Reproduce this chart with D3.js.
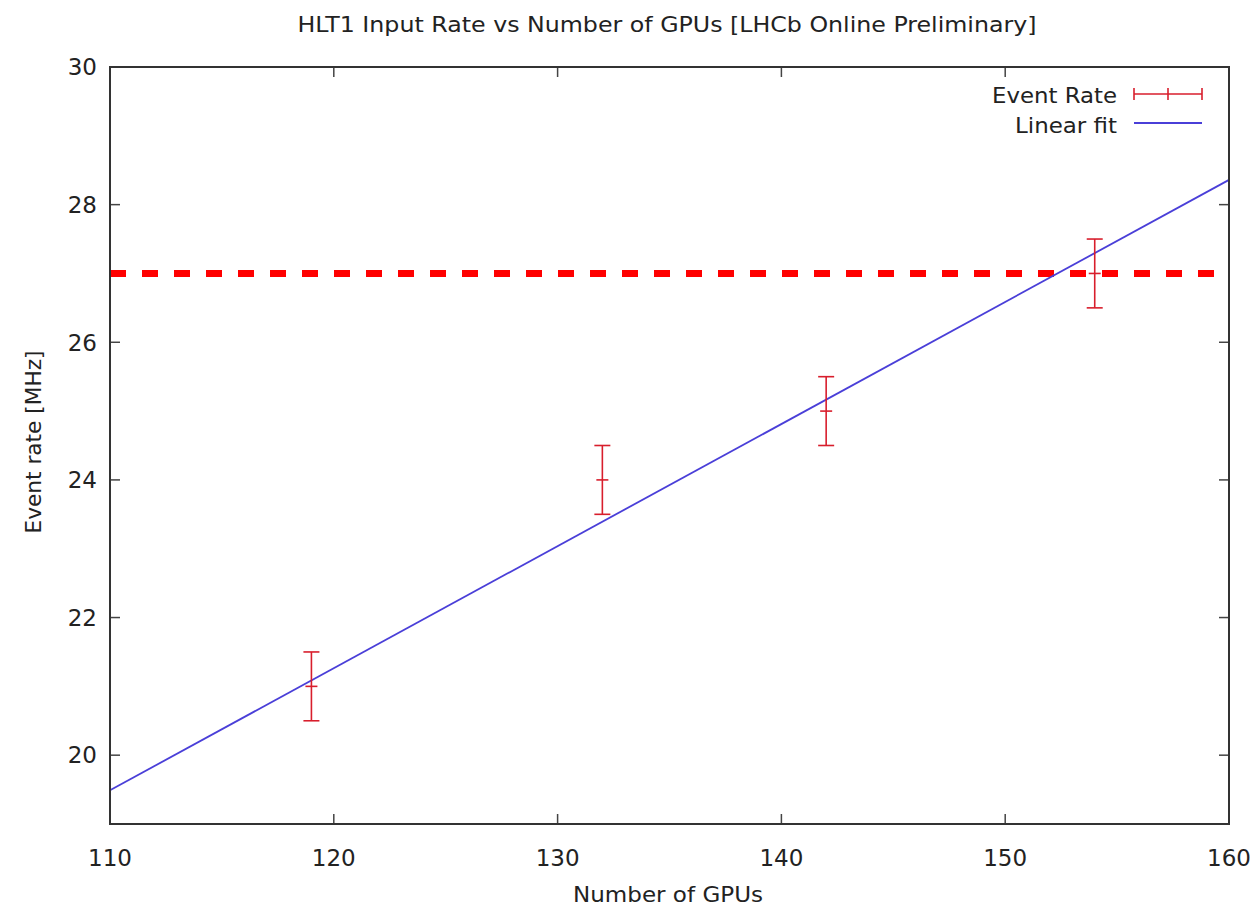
<!DOCTYPE html>
<html>
<head>
<meta charset="utf-8">
<script src="https://cdn.jsdelivr.net/npm/d3@7"></script>
<style>
  body { margin: 0; background: #fff; }
  text { font-family: "DejaVu Sans", sans-serif; fill: #222; }
</style>
</head>
<body>
<svg id="chart"></svg>
<script>
// measured points
let gpus = [119, 132, 142, 154];
let rates = [21, 24, 25, 27];
let errors = [0.5, 0.5, 0.5, 0.5];

// linear fit, read at the plot edges
let fitX = [110, 160];
let fitY = [19.49, 28.36];

// required rate (dashed)
let targetRate = 27;

let xTicks = [110, 120, 130, 140, 150, 160];
let yTicks = [20, 22, 24, 26, 28, 30];

function makeChart() {
    let w = 1258;
    let h = 909;
    let margin = {left: 110, right: 29, top: 67, bottom: 85};

    let svg = d3.select("#chart")
        .attr("width", w)
        .attr("height", h);

    let x = d3.scaleLinear().domain([110, 160]).range([margin.left, w - margin.right]);
    let y = d3.scaleLinear().domain([19, 30]).range([h - margin.bottom, margin.top]);

    // ticks inside the frame on all four sides
    let tick = 10;
    let g = svg.append("g");
    xTicks.forEach(t => {
        g.append("line").attr("x1", x(t)).attr("x2", x(t))
          .attr("y1", y(19)).attr("y2", y(19) - tick)
          .attr("stroke", "#444").attr("stroke-width", 1.5);
        g.append("line").attr("x1", x(t)).attr("x2", x(t))
          .attr("y1", y(30)).attr("y2", y(30) + tick)
          .attr("stroke", "#444").attr("stroke-width", 1.5);
        g.append("text").attr("x", x(t)).attr("y", 866)
          .attr("text-anchor", "middle").attr("font-size", 23).text(t);
    });
    yTicks.forEach(t => {
        g.append("line").attr("x1", x(110)).attr("x2", x(110) + tick)
          .attr("y1", y(t)).attr("y2", y(t))
          .attr("stroke", "#444").attr("stroke-width", 1.5);
        g.append("line").attr("x1", x(160)).attr("x2", x(160) - tick)
          .attr("y1", y(t)).attr("y2", y(t))
          .attr("stroke", "#444").attr("stroke-width", 1.5);
        g.append("text").attr("x", 97).attr("y", y(t))
          .attr("dy", "0.36em")
          .attr("text-anchor", "end").attr("font-size", 23).text(t);
    });

    // dashed target line
    svg.append("line")
      .attr("x1", x(110)).attr("x2", x(160) - 14)
      .attr("y1", y(targetRate)).attr("y2", y(targetRate))
      .attr("stroke", "#ff0000").attr("stroke-width", 7)
      .attr("stroke-dasharray", "16,16");

    // fit line
    let line = d3.line().x(d => x(d[0])).y(d => y(d[1]));
    svg.append("path")
      .datum(d3.zip(fitX, fitY))
      .attr("d", line)
      .attr("fill", "none")
      .attr("stroke", "#4a3fd8")
      .attr("stroke-width", 1.8);

    // error bars
    let red = "#d81e2c";
    let pts = gpus.map((g, i) => ({x: g, y: rates[i], e: errors[i]}));
    let eb = svg.selectAll(".eb").data(pts).enter().append("g").attr("class", "eb");
    eb.append("line")
      .attr("x1", d => x(d.x)).attr("x2", d => x(d.x))
      .attr("y1", d => y(d.y - d.e)).attr("y2", d => y(d.y + d.e))
      .attr("stroke", red).attr("stroke-width", 1.6);
    [-1, 1].forEach(s => {
        eb.append("line")
          .attr("x1", d => x(d.x) - 8).attr("x2", d => x(d.x) + 8)
          .attr("y1", d => y(d.y + s * d.e)).attr("y2", d => y(d.y + s * d.e))
          .attr("stroke", red).attr("stroke-width", 1.6);
    });
    eb.append("line")
      .attr("x1", d => x(d.x) - 6).attr("x2", d => x(d.x) + 6)
      .attr("y1", d => y(d.y)).attr("y2", d => y(d.y))
      .attr("stroke", red).attr("stroke-width", 1.6);

    // frame
    svg.append("rect")
      .attr("x", x(110)).attr("y", y(30))
      .attr("width", x(160) - x(110)).attr("height", y(19) - y(30))
      .attr("fill", "none").attr("stroke", "#333").attr("stroke-width", 2);

    // legend
    let leg = svg.append("g");
    leg.append("text").attr("x", 1117).attr("y", 103)
      .attr("text-anchor", "end").attr("font-size", 22)
      .attr("textLength", 125).attr("lengthAdjust", "spacingAndGlyphs")
      .text("Event Rate");
    leg.append("line").attr("x1", 1134).attr("x2", 1202).attr("y1", 94).attr("y2", 94)
      .attr("stroke", red).attr("stroke-width", 1.6);
    [1134, 1168, 1202].forEach(px => {
        leg.append("line").attr("x1", px).attr("x2", px).attr("y1", 88).attr("y2", 100)
          .attr("stroke", red).attr("stroke-width", 1.6);
    });
    leg.append("text").attr("x", 1117).attr("y", 133)
      .attr("text-anchor", "end").attr("font-size", 22)
      .attr("textLength", 102).attr("lengthAdjust", "spacingAndGlyphs")
      .text("Linear fit");
    leg.append("line").attr("x1", 1134).attr("x2", 1202).attr("y1", 123).attr("y2", 123)
      .attr("stroke", "#4a3fd8").attr("stroke-width", 1.8);

    // titles
    svg.append("text").attr("x", 667).attr("y", 32)
      .attr("text-anchor", "middle").attr("font-size", 21)
      .attr("textLength", 739).attr("lengthAdjust", "spacingAndGlyphs")
      .text("HLT1 Input Rate vs Number of GPUs [LHCb Online Preliminary]");
    svg.append("text").attr("x", 668).attr("y", 902)
      .attr("text-anchor", "middle").attr("font-size", 21)
      .attr("textLength", 190).attr("lengthAdjust", "spacingAndGlyphs")
      .text("Number of GPUs");
    svg.append("text")
      .attr("transform", "translate(41,442) rotate(-90)")
      .attr("text-anchor", "middle").attr("font-size", 22)
      .attr("textLength", 183).attr("lengthAdjust", "spacingAndGlyphs")
      .text("Event rate [MHz]");
}

window.onload = function() {
    makeChart();
}
</script>
</body>
</html>
